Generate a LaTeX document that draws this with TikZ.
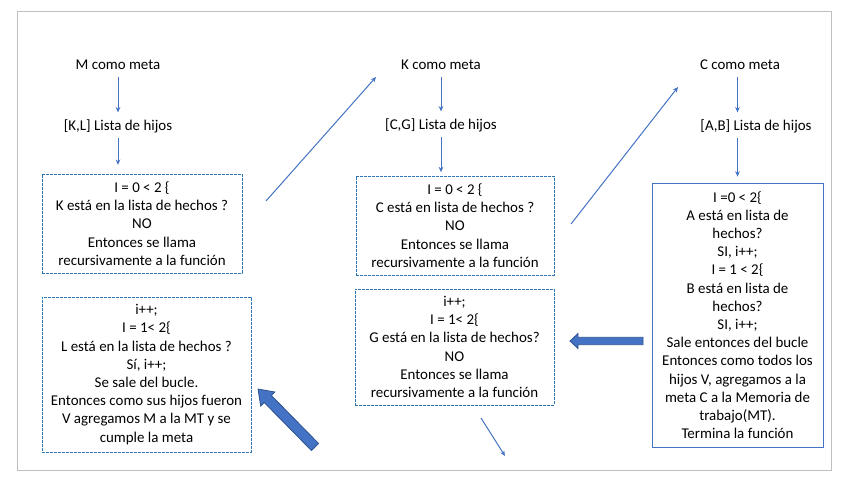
\documentclass[tikz,border=0pt]{standalone}
\usepackage{fontspec}
\setmainfont{Carlito}
\usetikzlibrary{arrows.meta}
\definecolor{officeblue}{RGB}{68,114,196}
\definecolor{darkblue}{RGB}{47,82,143}
\definecolor{dotblue}{RGB}{46,117,182}
\definecolor{framegray}{RGB}{191,191,191}
\tikzset{
  goal/.style={inner sep=0pt},
  link/.style={officeblue, line width=0.75pt, -{Stealth[length=4pt,width=3.5pt]}},
  dotbox/.style={draw=dotblue, line width=0.75pt, dash pattern=on 2.25pt off 0.75pt, align=center, inner sep=0pt},
  solidbox/.style={draw=officeblue, line width=0.6pt, align=center, inner sep=0pt},
  bigarrow/.style={fill=officeblue, draw=darkblue, line width=0.6pt, line join=miter}
}

\begin{document}
\begin{tikzpicture}[x=0.75pt, y=-0.75pt, font=\fontsize{11.2pt}{13.65pt}\selectfont]
    \useasboundingbox (0,0) rectangle (849,479);
    \draw[framegray, line width=0.75pt] (17,11) rectangle (831,470);

    % meta M
    \node[goal] (mgoal) at (118,65) {M como meta};
    \node[goal] (mlist) at (118,126) {[K,L] Lista de hijos};
    \node[dotbox, minimum width=150pt, minimum height=74.25pt] (mbox1) at (142,223.5)
        {I = 0 < 2 \{\\ K está en la lista de hechos ?\\ NO\\ Entonces se llama\\ recursivamente a la función};
    \node[dotbox, minimum width=156.75pt, minimum height=116.25pt] (mbox2) at (146.5,374.5)
        {i++;\\ I = 1< 2\{\\ L está en la lista de hechos ?\\ Sí, i++;\\ Se sale del bucle.\\ Entonces como sus hijos fueron\\ V agregamos M a la MT y se\\ cumple la meta};
    \draw[link, shorten <=5pt, shorten >=5pt] (mgoal.south) -- (mlist.north -| mgoal.south);
    \draw[link, shorten <=4pt, shorten >=6.5pt] (mlist.south -| mgoal.south) -- (mbox1.north -| mgoal.south);

    % meta K
    \node[goal] (kgoal) at (441,65) {K como meta};
    \node[goal] (klist) at (441,125) {[C,G] Lista de hijos};
    \node[dotbox, minimum width=148.5pt, minimum height=74.25pt] (kbox1) at (455,225.5)
        {I = 0 < 2 \{\\ C está en lista de hechos ?\\ NO\\ Entonces se llama\\ recursivamente a la función};
    \node[dotbox, minimum width=149.25pt, minimum height=87pt] (kbox2) at (454.5,347)
        {i++;\\ I = 1< 2\{\\ G está en la lista de hechos?\\ NO\\ Entonces se llama\\ recursivamente a la función};
    \draw[link, shorten <=5pt, shorten >=5pt] (kgoal.south) -- (klist.north -| kgoal.south);
    \draw[link, shorten <=4pt, shorten >=2.5pt] (klist.south -| kgoal.south) -- (kbox1.north -| kgoal.south);

    % meta C
    \node[goal] (cgoal) at (740,65) {C como meta};
    \node[goal] (clist) at (756,126) {[A,B] Lista de hijos};
    \node[solidbox, minimum width=128.25pt, minimum height=198pt] (cbox) at (737.5,315)
        {I =0 < 2\{\\ A está en lista de\\ hechos?\\ SI, i++;\\ I = 1 < 2\{\\ B está en lista de\\ hechos?\\ SI, i++;\\ Sale entonces del bucle\\ Entonces como todos los\\ hijos V, agregamos a la\\ meta C a la Memoria de\\ trabajo(MT).\\ Termina la función};
    \draw[link, shorten <=5pt, shorten >=5pt] (cgoal.south -| cbox.north) -- (clist.north -| cbox.north);
    \draw[link, shorten <=4pt, shorten >=4.5pt] (clist.south -| cbox.north) -- (cbox.north);

    % llamadas recursivas
    \coordinate (mkfrom) at (266,201);
    \coordinate (mkto) at (376,77);
    \coordinate (kcfrom) at (571,224);
    \coordinate (kcto) at (678,87);
    \coordinate (gfrom) at (481,418);
    \coordinate (gto) at (505,456);
    \draw[link] (mkfrom) -- (mkto);
    \draw[link] (kcfrom) -- (kcto);
    \draw[link] (gfrom) -- (gto);

    % retornos
    \draw[bigarrow] (643,337.3) -- (578,337.3) -- (578,333.5) -- (570,341) -- (578,348.5) -- (578,344.7) -- (643,344.7) -- cycle;
    \draw[bigarrow] (258,389) -- (274.9,392.0) -- (271.4,395.5) -- (318.6,443.5) -- (311.4,450.5) -- (264.2,402.5) -- (260.7,406.0) -- cycle;
\end{tikzpicture}
\end{document}
